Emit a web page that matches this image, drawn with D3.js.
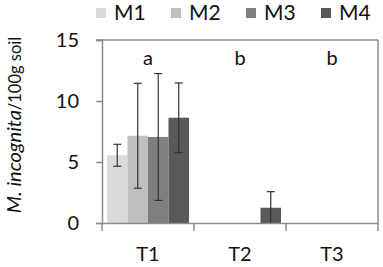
<!DOCTYPE html>
<html><head><meta charset="utf-8">
<script src="https://cdn.jsdelivr.net/npm/d3@7"></script>
<style>body{margin:0;background:#fff}svg{display:block}text{font-family:Lato,"Open Sans",sans-serif}</style>
</head><body>
<svg id="c" width="383" height="267"></svg>
<script>
const categories = ["T1","T2","T3"];
const series = ["M1","M2","M3","M4"];
const M1 = [5.55, 0, 0];
const M2 = [7.15, 0, 0];
const M3 = [7.05, 0, 0];
const M4 = [8.63, 1.25, 0];
const M1err = [0.9, 0, 0];
const M2err = [4.3, 0, 0];
const M3err = [5.2, 0, 0];
const M4err = [2.85, 1.32, 0];
const letters = ["a","b","b"];
const yTicks = [0,5,10,15];
const colors = ["#dadada","#bfbfbf","#7f7f7f","#595959"];

const values = {M1, M2, M3, M4};
const errs = {M1: M1err, M2: M2err, M3: M3err, M4: M4err};

const svg = d3.select("#c");
const L = 102, R = 378, T = 40, B = 223;
const x = d3.scaleBand().domain(categories).range([L, R]).padding(0);
const xs = d3.scaleBand().domain(series).range([0, x.bandwidth()]).paddingInner(0).paddingOuter(0.244);
const y = d3.scaleLinear().domain([0,15]).range([B, T]);
const axisColor = "#8c8c8c";

// frame top and right
svg.append("line").attr("x1", L-6).attr("x2", R).attr("y1", y(15)).attr("y2", y(15)).attr("stroke", axisColor).attr("stroke-width",1.5);
svg.append("line").attr("x1", R).attr("x2", R).attr("y1", y(15)).attr("y2", B).attr("stroke", axisColor).attr("stroke-width",1.5);

// bars
const data = [];
categories.forEach((c,i)=>series.forEach((s,j)=>data.push({c, s, j, v: values[s][i], e: errs[s][i]})));
svg.append("g").selectAll("rect").data(data.filter(d=>d.v>0)).join("rect")
  .attr("x", d=>x(d.c)+xs(d.s)).attr("width", xs.bandwidth())
  .attr("y", d=>y(d.v)).attr("height", d=>y(0)-y(d.v))
  .attr("fill", d=>colors[d.j]);

// error bars
const eg = svg.append("g").attr("stroke","#333").attr("stroke-width",1.2);
data.filter(d=>d.e>0).forEach(d=>{
  const cx = x(d.c)+xs(d.s)+xs.bandwidth()/2;
  const lo = Math.max(0, d.v-d.e), hi = d.v+d.e;
  eg.append("line").attr("x1",cx).attr("x2",cx).attr("y1",y(lo)).attr("y2",y(hi));
  eg.append("line").attr("x1",cx-4).attr("x2",cx+4).attr("y1",y(hi)).attr("y2",y(hi));
  if (d.v-d.e > 0) eg.append("line").attr("x1",cx-4).attr("x2",cx+4).attr("y1",y(lo)).attr("y2",y(lo));
});

// y axis
const ya = svg.append("g").attr("transform",`translate(${L},0)`)
  .call(d3.axisLeft(y).tickValues(yTicks).tickSize(6).tickPadding(17));
ya.select(".domain").attr("stroke",axisColor).attr("stroke-width",1.5);
ya.selectAll(".tick line").attr("stroke",axisColor).attr("stroke-width",1.5);
ya.selectAll(".tick text").attr("font-size",20).attr("fill","#111");

// x axis
const xa = svg.append("g").attr("transform",`translate(0,${B})`)
  .call(d3.axisBottom(x).tickSize(0).tickPadding(24));
xa.select(".domain").attr("stroke",axisColor).attr("stroke-width",1.5);
xa.selectAll(".tick text").attr("font-size",20).attr("fill","#111");
const bounds = [L, ...categories.map(c=>x(c)+x.bandwidth())];
xa.selectAll(".sep").data(bounds).join("line").attr("class","sep")
  .attr("x1",d=>d).attr("x2",d=>d).attr("y1",0).attr("y2",8)
  .attr("stroke",axisColor).attr("stroke-width",1.5);

// letters
svg.selectAll(".let").data(categories).join("text").attr("class","let")
  .attr("x", c=>x(c)+x.bandwidth()/2).attr("y", 65)
  .attr("text-anchor","middle").attr("font-size",20).attr("fill","#111")
  .text((c,i)=>letters[i]);

// legend
const lg = svg.append("g");
series.forEach((s,j)=>{
  const lx = 96 + j*75;
  lg.append("rect").attr("x",lx).attr("y",8).attr("width",10).attr("height",10).attr("fill",colors[j]);
  lg.append("text").attr("x",lx+18).attr("y",20).attr("font-size",21).attr("fill","#111").text(s);
});

// y label
const yl = svg.append("text").attr("transform","translate(21,125) rotate(-90)")
  .attr("text-anchor","middle").attr("fill","#111");
yl.append("tspan").attr("font-size",20).attr("font-style","italic").text("M. incognita");
yl.append("tspan").attr("font-size",16.5).text("/100g soil");
</script>
</body></html>
